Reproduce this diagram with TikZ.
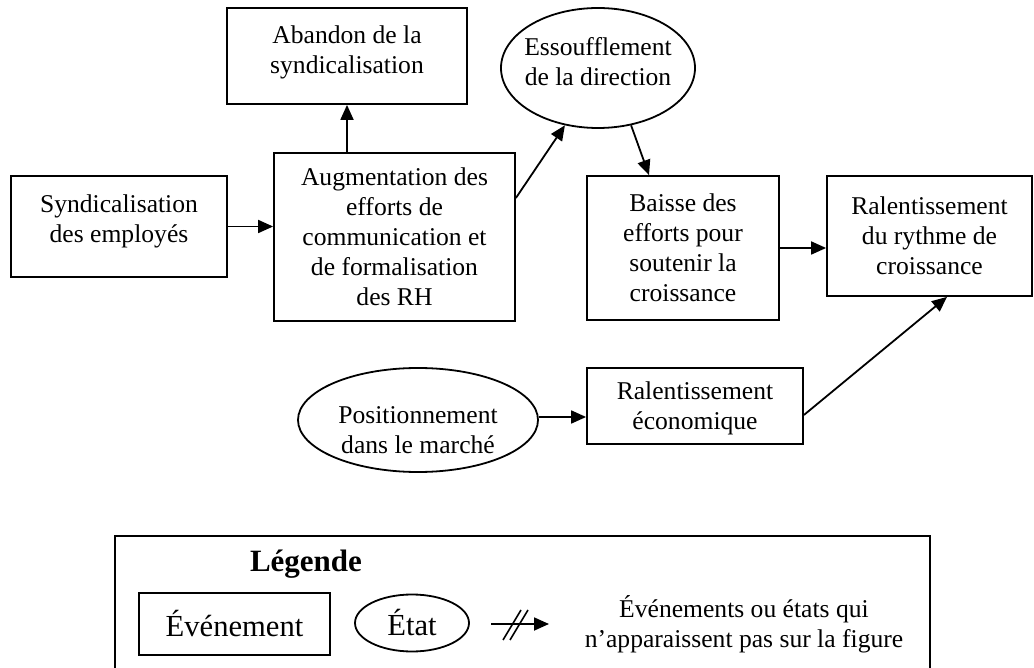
\documentclass[tikz,border=0pt]{standalone}
\usepackage{fontspec}
\setmainfont{Liberation Serif}
\usetikzlibrary{arrows.meta,shapes.geometric}
\tikzset{
  base/.style={draw, line width=0.9pt, inner sep=0pt},
  evbox/.style={base, rectangle},
  stbox/.style={base, ellipse},
  txt/.style={align=center, inner sep=0pt, font=\fontsize{12.8pt}{15pt}\selectfont},
  arr/.style={line width=0.9pt, -{Triangle[length=7.5pt,width=6.5pt]}},
  frame/.style={line width=0.9pt},
  legfont/.style={font=\fontsize{15.3pt}{18pt}\selectfont}
}
\begin{document}
\begin{tikzpicture}[x=0.5pt,y=-0.5pt]
\useasboundingbox (0,0) rectangle (1034,668);

% main shapes
\node[evbox, minimum width=108pt, minimum height=50.5pt] (syn) at (119,226.5) {};
\node[evbox, minimum width=120.5pt, minimum height=84pt] (aug) at (394.5,237) {};
\node[evbox, minimum width=120pt, minimum height=48pt] (aban) at (347,56) {};
\node[stbox, minimum width=97pt, minimum height=60pt] (ess) at (598,68) {};
\node[evbox, minimum width=96pt, minimum height=72pt] (bai) at (683,248) {};
\node[evbox, minimum width=102.5pt, minimum height=60pt] (ral) at (929.5,236) {};
\node[evbox, minimum width=108pt, minimum height=38pt] (eco) at (695,406) {};
\node[stbox, minimum width=120pt, minimum height=52pt] (pos) at (418,420) {};

% texts
\node[txt] (syn-t) at ([yshift=2.5pt]syn.center) {Syndicalisation\\des employés};
\node[txt] (aug-t) at (aug.center) {Augmentation des\\efforts de\\communication et\\de formalisation\\des RH};
\node[txt] (aban-t) at ([yshift=2pt]aban.center) {Abandon de la\\syndicalisation};
\node[txt] (ess-t) at ([yshift=3pt]ess.center) {Essoufflement\\de la direction};
\node[txt] (bai-t) at (bai.center) {Baisse des\\efforts pour\\soutenir la\\croissance};
\node[txt] (ral-t) at (ral.center) {Ralentissement\\du rythme de\\croissance};
\node[txt] (eco-t) at ([yshift=-1pt]eco.center) {Ralentissement\\économique};
\node[txt] (pos-t) at ([yshift=-5pt]pos.center) {Positionnement\\dans le marché};

% connectors
\draw[arr] (syn.east) -- (syn.east -| aug.west);
\draw[arr] (aug.north -| aban.south) -- (aban.south);
\draw[arr] ([yshift=19.5pt]aug.east) -- (ess.240);
\draw[arr] (ess.300) -- ([xshift=-17pt]bai.north);
\draw[arr] (bai.east) -- (bai.east -| ral.west);
\draw[arr] ([yshift=1.5pt]pos.east) -- ([yshift=1.5pt]pos.east -| eco.west);
\draw[arr] ([yshift=-4.5pt]eco.east) -- ([xshift=8.75pt]ral.south);

% legend
\coordinate (lgbl) at (115,668);
\coordinate (lgtl) at (115,536);
\coordinate (lgtr) at (930,536);
\coordinate (lgbr) at (930,668);
\draw[frame] (lgbl) -- (lgtl) -- (lgtr) -- (lgbr);
\node[font=\fontsize{15.5pt}{18pt}\selectfont\bfseries] (legt) at (306,564) {Légende};
\node[evbox, legfont, minimum width=95.5pt, minimum height=31pt] (levt) at (234.5,624) {Événement};
\node[stbox, legfont, minimum width=57pt, minimum height=28.5pt] (letat) at (412,623) {État};
\coordinate (la1) at (491,624);
\coordinate (la2) at (549,624);
\draw[arr] (la1) -- (la2);
\draw[line width=0.8pt] (503,640) -- (521,610);
\draw[line width=0.8pt] (510,640) -- (528,610);
\node[txt] (ldesc) at (744,624) {Événements ou états qui\\n’apparaissent pas sur la figure};
\end{tikzpicture}
\end{document}
